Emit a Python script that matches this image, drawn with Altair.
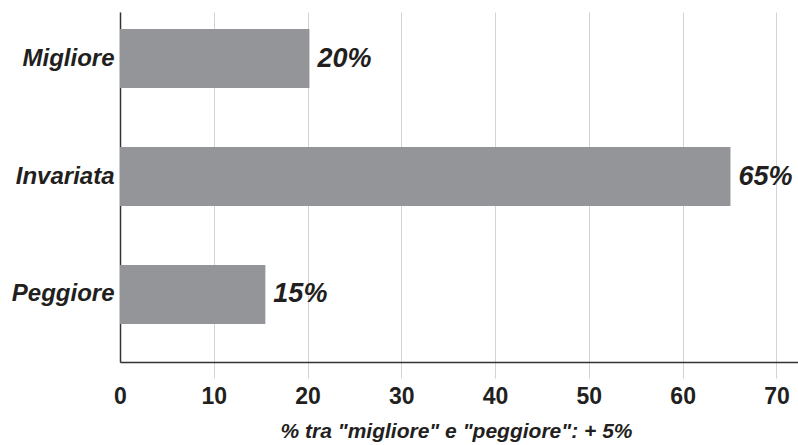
import altair as alt
import pandas as pd

categories = ["Migliore", "Invariata", "Peggiore"]
values = [20.2, 65.1, 15.5]
labels = ["20%", "65%", "15%"]
x_title = '% tra "migliore" e "peggiore": + 5%'

df = pd.DataFrame({"cat": categories, "val": values, "lab": labels})

FONT = "Liberation Sans"
DARK = "#231f20"
GRID = "#d3d3d3"

y_enc = alt.Y("cat:N", sort=categories, title=None,
              scale=alt.Scale(paddingInner=0.5, paddingOuter=0.234, align=0.31),
              axis=alt.Axis(labelFont=FONT, labelFontSize=24, labelFontWeight="bold",
                            labelFontStyle="italic", labelColor=DARK, labelPadding=6,
                            ticks=False, domainColor="#333333", domainWidth=1.5,
                            grid=False))

x_enc = alt.X("val:Q", title=x_title,
              scale=alt.Scale(domain=[0, 72.3], nice=False, zero=True),
              axis=alt.Axis(values=[0, 10, 20, 30, 40, 50, 60, 70], format="d",
                            labelFont=FONT, labelFontSize=23, labelFontWeight="bold",
                            labelColor=DARK, labelPadding=7,
                            tickSize=16, tickColor=GRID, tickWidth=1,
                            tickOpacity={"condition": {"test": "datum.value == 0", "value": 0}, "value": 1},
                            grid=True, gridColor=GRID, gridWidth=1,
                            domainColor="#333333", domainWidth=1.5,
                            titleFont=FONT, titleFontSize=21, titleFontWeight="bold",
                            titleFontStyle="italic", titleColor=DARK,
                            titleX=336, titleY=75, titleBaseline="alphabetic",
                            titleAlign="center", labelFlush=False))

base = alt.Chart(df)

bars = base.mark_bar(color="#949598").encode(x=x_enc, y=y_enc)

text = base.mark_text(align="left", baseline="middle", dx=8, font=FONT, fontSize=27,
                      fontWeight="bold", fontStyle="italic", color=DARK).encode(
    x=alt.X("val:Q"), y=alt.Y("cat:N", sort=categories), text="lab:N")

chart = (bars + text).properties(
    width=678, height=350,
    autosize=alt.AutoSizeParams(type="none"),
    padding={"left": 120, "top": 12, "right": 0, "bottom": 83},
    background="white",
).configure_view(stroke=None)

chart.save("out.html", embed_options={"renderer": "svg", "actions": False})
